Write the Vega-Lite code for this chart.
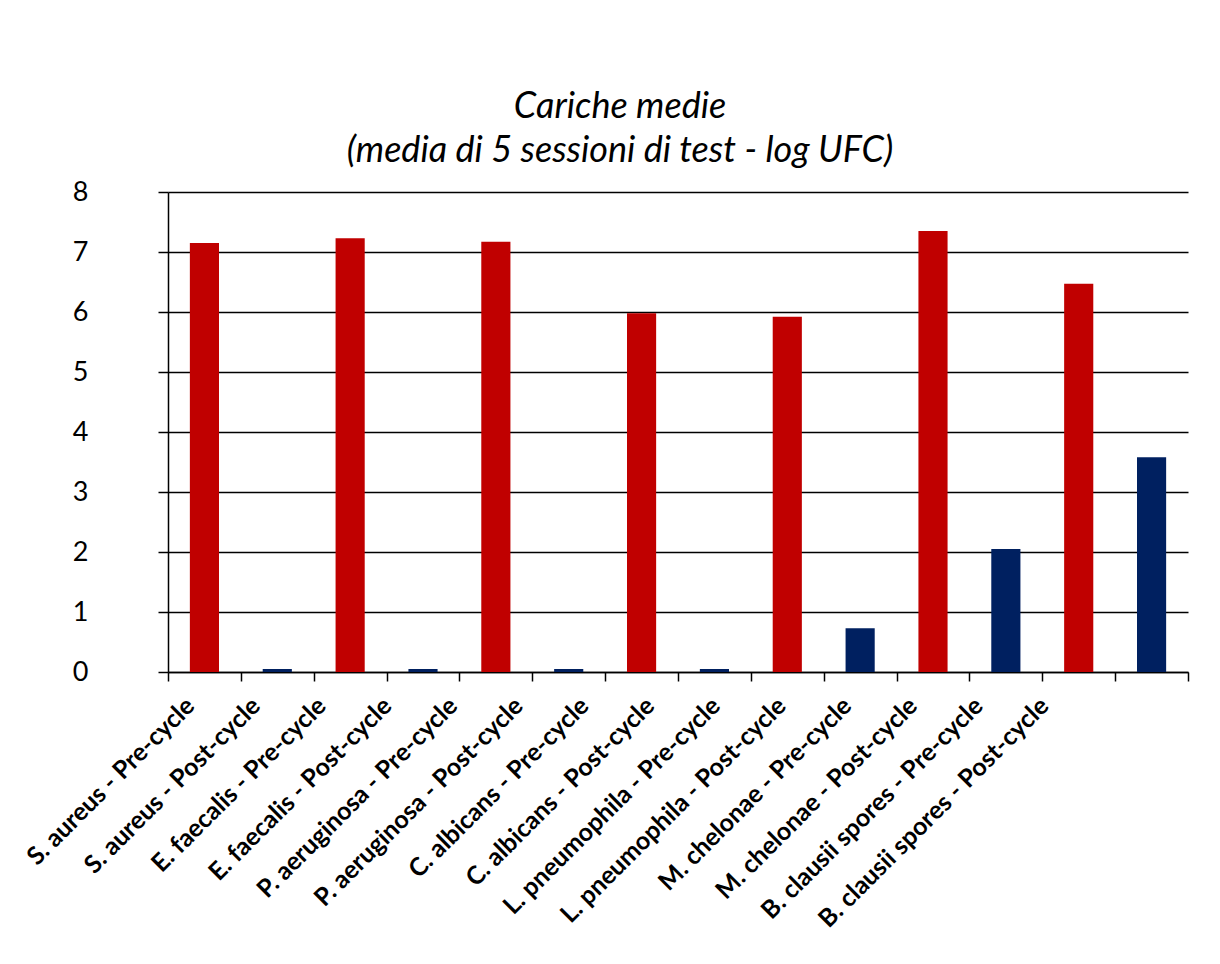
{
  "$schema": "https://vega.github.io/schema/vega-lite/v6.json",
  "autosize": "none",
  "width": 1020,
  "height": 480,
  "padding": {"left": 168, "top": 192, "right": 32, "bottom": 292},
  "background": "white",
  "title": {
    "text": ["Cariche medie", "(media di 5 sessioni di test - log UFC)"],
    "font": "Lato",
    "fontSize": 36,
    "fontStyle": "italic",
    "fontWeight": "normal",
    "color": "black",
    "anchor": "middle",
    "frame": "group",
    "dx": -58,
    "dy": 52,
    "lineHeight": 44,
    "baseline": "bottom",
    "offset": 24
  },
  "data": {
    "values": [
      {"label": "S. aureus - Pre-cycle", "phase": "Pre-cycle", "value": 7.15},
      {"label": "S. aureus - Post-cycle", "phase": "Post-cycle", "value": 0.05},
      {"label": "E. faecalis - Pre-cycle", "phase": "Pre-cycle", "value": 7.23},
      {"label": "E. faecalis - Post-cycle", "phase": "Post-cycle", "value": 0.05},
      {"label": "P. aeruginosa - Pre-cycle", "phase": "Pre-cycle", "value": 7.17},
      {"label": "P. aeruginosa - Post-cycle", "phase": "Post-cycle", "value": 0.05},
      {"label": "C. albicans - Pre-cycle", "phase": "Pre-cycle", "value": 5.98},
      {"label": "C. albicans - Post-cycle", "phase": "Post-cycle", "value": 0.05},
      {"label": "L. pneumophila - Pre-cycle", "phase": "Pre-cycle", "value": 5.92},
      {"label": "L. pneumophila - Post-cycle", "phase": "Post-cycle", "value": 0.73},
      {"label": "M. chelonae - Pre-cycle", "phase": "Pre-cycle", "value": 7.35},
      {"label": "M. chelonae - Post-cycle", "phase": "Post-cycle", "value": 2.05},
      {"label": "B. clausii spores - Pre-cycle", "phase": "Pre-cycle", "value": 6.47},
      {"label": "B. clausii spores - Post-cycle", "phase": "Post-cycle", "value": 3.58}
    ]
  },
  "mark": {"type": "bar", "width": {"band": 0.4}},
  "encoding": {
    "x": {
      "field": "label",
      "type": "nominal",
      "sort": null,
      "scale": {"paddingInner": 0, "paddingOuter": 0},
      "axis": {
        "title": null,
        "labelAngle": -45,
        "labelFont": "Lato",
        "labelFontSize": 25,
        "labelFontWeight": "bold",
        "labelColor": "black",
        "labelLimit": 0,
        "labelPadding": 12,
        "labelOffset": {"expr": "-23 - 7.16 * indexof(domain('x'), datum.value)"},
        "tickBand": "extent",
        "tickSize": 9,
        "tickColor": "black",
        "tickWidth": 1.5,
        "domainColor": "black",
        "domainWidth": 1.5,
        "grid": false
      }
    },
    "y": {
      "field": "value",
      "type": "quantitative",
      "scale": {"domain": [0, 8], "nice": false},
      "axis": {
        "title": null,
        "values": [0, 1, 2, 3, 4, 5, 6, 7, 8],
        "grid": true,
        "gridColor": "black",
        "gridWidth": 1.5,
        "domainColor": "black",
        "domainWidth": 1.5,
        "tickColor": "black",
        "tickWidth": 1.5,
        "tickSize": 10,
        "labelFont": "Lato",
        "labelFontSize": 27,
        "labelColor": "black",
        "labelPadding": 70
      }
    },
    "color": {
      "field": "phase",
      "type": "nominal",
      "scale": {"domain": ["Pre-cycle", "Post-cycle"], "range": ["#C00000", "#002060"]},
      "legend": null
    }
  },
  "config": {"view": {"stroke": null}}
}
